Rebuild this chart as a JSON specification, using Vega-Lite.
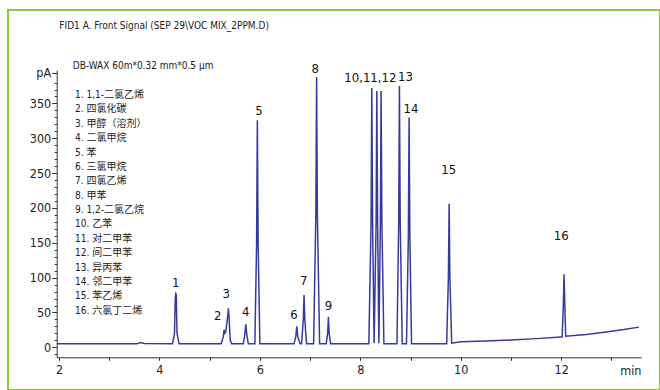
{
  "$schema": "https://vega.github.io/schema/vega-lite/v6.json",
  "width": 652,
  "height": 380,
  "autosize": {"type": "none"},
  "padding": {"left": 8, "top": 10, "right": 0, "bottom": 0},
  "background": "white",
  "title": {
    "text": "FID1 A. Front Signal (SEP 29\\VOC MIX_2PPM.D)",
    "anchor": "start",
    "frame": "group",
    "offset": -26,
    "dx": 51.3,
    "baseline": "middle",
    "font": "DejaVu Sans Condensed, Liberation Sans",
    "fontSize": 10,
    "fontWeight": "normal",
    "color": "#222222"
  },
  "config": {
    "view": {"stroke": "#8dc63f", "strokeWidth": 2},
    "font": "DejaVu Sans Condensed, Liberation Sans, Noto Sans CJK SC",
    "axis": {
      "labelFont": "DejaVu Sans Condensed, Liberation Sans",
      "titleFont": "DejaVu Sans Condensed, Liberation Sans",
      "domainColor": "#333333",
      "tickColor": "#333333",
      "labelColor": "#222222",
      "titleColor": "#222222",
      "grid": false
    }
  },
  "resolve": {"scale": {"y": "independent"}},
  "layer": [
    {
      "encoding": {
        "x": {
          "field": "t", "type": "quantitative",
          "scale": {"domain": [1.954, 13.59], "range": [48.7, 633], "nice": false, "zero": false},
          "axis": {
            "offset": -32.7,
            "values": [2, 2.5, 3, 3.5, 4, 4.5, 5, 5.5, 6, 6.5, 7, 7.5, 8, 8.5, 9, 9.5, 10, 10.5, 11, 11.5, 12, 12.5, 13, 13.5],
            "labelExpr": "datum.value % 2 == 0 ? format(datum.value, 'd') : ''",
            "tickSize": 3,
            "labelPadding": 3,
            "labelFontSize": 12.5,
            "labelFlush": false,
            "labelOverlap": false,
            "title": "min",
            "titleX": 633,
            "titleY": 13,
            "titleAlign": "right",
            "titleAnchor": "end",
            "titleBaseline": "middle",
            "titleFontSize": 12.5,
            "titleFontWeight": "normal"
          }
        },
        "y": {
          "field": "s", "type": "quantitative",
          "scale": {"domain": [-14.3, 398], "range": [347.3, 60], "nice": false, "zero": false},
          "axis": {
            "offset": -48.7,
            "values": [-10, 0, 10, 20, 30, 40, 50, 60, 70, 80, 90, 100, 110, 120, 130, 140, 150, 160, 170, 180, 190, 200, 210, 220, 230, 240, 250, 260, 270, 280, 290, 300, 310, 320, 330, 340, 350, 360, 370, 380, 394],
            "labelExpr": "datum.value == 394 ? 'pA' : (datum.value % 50 == 0 ? format(datum.value, 'd') : '')",
            "tickSize": {"condition": {"test": "datum.value % 50 == 0 || datum.value == 394", "value": 5}, "value": 2.5},
            "labelPadding": 1,
            "labelFontSize": 12.5,
            "labelOverlap": false,
            "labelFlush": false,
            "title": null
          }
        }
      },
      "layer": [
        {
          "data": {
            "values": [
              {"t": 1.96, "s": 5}, {"t": 3.55, "s": 5}, {"t": 3.62, "s": 7}, {"t": 3.7, "s": 5.5},
              {"t": 4.26, "s": 5}, {"t": 4.3, "s": 20}, {"t": 4.315, "s": 70}, {"t": 4.325, "s": 77}, {"t": 4.335, "s": 76}, {"t": 4.35, "s": 20}, {"t": 4.39, "s": 5},
              {"t": 5.23, "s": 5}, {"t": 5.27, "s": 15}, {"t": 5.287, "s": 25}, {"t": 5.3, "s": 20}, {"t": 5.32, "s": 22}, {"t": 5.36, "s": 45}, {"t": 5.373, "s": 56}, {"t": 5.385, "s": 45}, {"t": 5.41, "s": 10}, {"t": 5.44, "s": 5},
              {"t": 5.67, "s": 5}, {"t": 5.7, "s": 18}, {"t": 5.72, "s": 33}, {"t": 5.74, "s": 18}, {"t": 5.77, "s": 5},
              {"t": 5.9, "s": 5}, {"t": 5.935, "s": 150}, {"t": 5.95, "s": 326}, {"t": 5.965, "s": 150}, {"t": 6.0, "s": 5},
              {"t": 6.68, "s": 5}, {"t": 6.715, "s": 15}, {"t": 6.735, "s": 30}, {"t": 6.755, "s": 15}, {"t": 6.8, "s": 5},
              {"t": 6.83, "s": 5}, {"t": 6.865, "s": 40}, {"t": 6.88, "s": 75}, {"t": 6.895, "s": 40}, {"t": 6.93, "s": 5},
              {"t": 7.07, "s": 5}, {"t": 7.115, "s": 190}, {"t": 7.13, "s": 388}, {"t": 7.145, "s": 190}, {"t": 7.19, "s": 5},
              {"t": 7.32, "s": 5}, {"t": 7.35, "s": 20}, {"t": 7.365, "s": 44}, {"t": 7.38, "s": 20}, {"t": 7.41, "s": 5},
              {"t": 8.17, "s": 5}, {"t": 8.215, "s": 180}, {"t": 8.229, "s": 372}, {"t": 8.245, "s": 180}, {"t": 8.275, "s": 6},
              {"t": 8.315, "s": 180}, {"t": 8.329, "s": 368}, {"t": 8.345, "s": 180}, {"t": 8.37, "s": 6},
              {"t": 8.4, "s": 180}, {"t": 8.414, "s": 368}, {"t": 8.43, "s": 180}, {"t": 8.47, "s": 5},
              {"t": 8.73, "s": 5}, {"t": 8.765, "s": 180}, {"t": 8.779, "s": 375}, {"t": 8.795, "s": 180}, {"t": 8.835, "s": 5},
              {"t": 8.92, "s": 5}, {"t": 8.957, "s": 160}, {"t": 8.972, "s": 330}, {"t": 8.987, "s": 160}, {"t": 9.02, "s": 5},
              {"t": 9.72, "s": 5}, {"t": 9.754, "s": 100}, {"t": 9.769, "s": 206}, {"t": 9.784, "s": 100}, {"t": 9.82, "s": 6},
              {"t": 10.0, "s": 8}, {"t": 10.5, "s": 9}, {"t": 11.0, "s": 10.5}, {"t": 11.5, "s": 12.5}, {"t": 12.0, "s": 15},
              {"t": 12.02, "s": 15}, {"t": 12.043, "s": 60}, {"t": 12.058, "s": 105}, {"t": 12.073, "s": 60}, {"t": 12.09, "s": 16},
              {"t": 12.5, "s": 18.5}, {"t": 12.9, "s": 22}, {"t": 13.25, "s": 25.5}, {"t": 13.55, "s": 29}
            ]
          },
          "mark": {"type": "line", "color": "#363a9b", "strokeWidth": 1.5, "interpolate": "linear"}
        },
        {
          "data": {
            "values": [
              {"lab": "1", "t": 4.325, "s": 93},
              {"lab": "2", "t": 5.16, "s": 45},
              {"lab": "3", "t": 5.33, "s": 76},
              {"lab": "4", "t": 5.72, "s": 50},
              {"lab": "5", "t": 5.98, "s": 339},
              {"lab": "6", "t": 6.68, "s": 46},
              {"lab": "7", "t": 6.875, "s": 95.5},
              {"lab": "8", "t": 7.1, "s": 399},
              {"lab": "9", "t": 7.365, "s": 59},
              {"lab": "10,11,12", "t": 8.2, "s": 387},
              {"lab": "13", "t": 8.9, "s": 388},
              {"lab": "14", "t": 9.01, "s": 342},
              {"lab": "15", "t": 9.76, "s": 254},
              {"lab": "16", "t": 12.0, "s": 160}
            ]
          },
          "mark": {"type": "text", "align": "center", "baseline": "middle", "font": "DejaVu Sans Condensed, Liberation Sans", "fontSize": 13, "color": "#111111"},
          "encoding": {"text": {"field": "lab"}}
        }
      ]
    },
    {
      "data": {
        "values": [
          {"n": -1, "label": "DB-WAX 60m*0.32 mm*0.5 μm"},
          {"n": 1, "label": "1. 1,1-二氯乙烯"},
          {"n": 2, "label": "2. 四氯化碳"},
          {"n": 3, "label": "3. 甲醇（溶剂）"},
          {"n": 4, "label": "4. 二氯甲烷"},
          {"n": 5, "label": "5. 苯"},
          {"n": 6, "label": "6. 三氯甲烷"},
          {"n": 7, "label": "7. 四氯乙烯"},
          {"n": 8, "label": "8. 甲苯"},
          {"n": 9, "label": "9. 1,2-二氯乙烷"},
          {"n": 10, "label": "10. 乙苯"},
          {"n": 11, "label": "11. 对二甲苯"},
          {"n": 12, "label": "12. 间二甲苯"},
          {"n": 13, "label": "13. 异丙苯"},
          {"n": 14, "label": "14. 邻二甲苯"},
          {"n": 15, "label": "15. 苯乙烯"},
          {"n": 16, "label": "16. 六氯丁二烯"}
        ]
      },
      "encoding": {
        "y": {"field": "n", "type": "quantitative", "scale": {"domain": [1, 16], "range": [85, 300.7], "nice": false, "zero": false}, "axis": null},
        "text": {"field": "label"}
      },
      "layer": [
        {
          "transform": [{"filter": "datum.n > 0"}],
          "mark": {"type": "text", "align": "left", "baseline": "middle", "font": "DejaVu Sans Condensed, Liberation Sans, Noto Sans CJK SC", "fontSize": 10, "color": "#222222"},
          "encoding": {"x": {"datum": 2.319, "type": "quantitative"}}
        },
        {
          "transform": [{"filter": "datum.n < 0"}],
          "mark": {"type": "text", "align": "left", "baseline": "middle", "font": "DejaVu Sans Condensed, Liberation Sans", "fontSize": 10, "color": "#222222"},
          "encoding": {"x": {"datum": 2.273, "type": "quantitative"}}
        }
      ]
    }
  ]
}
